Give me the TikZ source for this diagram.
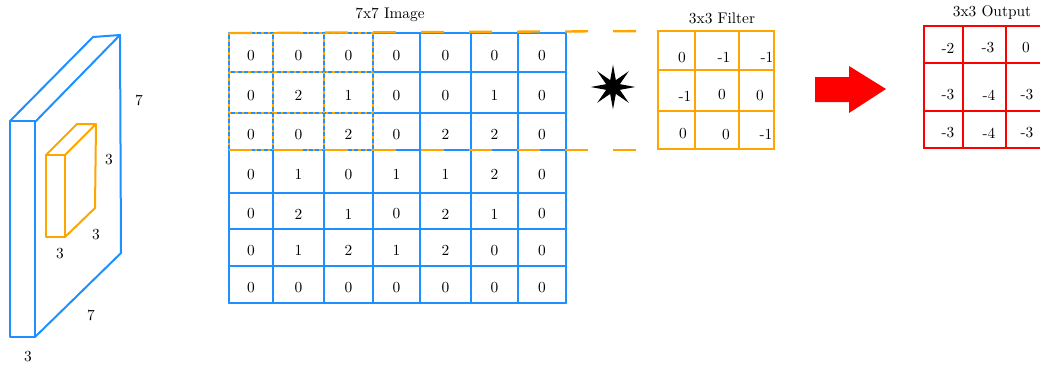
\documentclass[tikz,border=0pt]{standalone}
\usetikzlibrary{shapes.geometric}
\definecolor{gblue}{RGB}{30,144,255}
\definecolor{gorange}{RGB}{255,165,0}
\definecolor{gred}{RGB}{255,0,0}
\newcommand\mycolc[1]{\ifcase#1\or251\or298.5\or348.5\or396.5\or445.5\or494.5\or542\fi}
\begin{document}
\begin{tikzpicture}[x=0.65pt,y=-0.65pt,
  bl/.style={draw=gblue,line width=1.3pt,line join=round,line cap=round},
  orl/.style={draw=gorange,line width=1.3pt,line join=round},
  filt/.style={draw=gorange,line width=1.7pt},
  redl/.style={draw=gred,line width=1.5pt},
  dotl/.style={draw=gorange,line width=1.5pt,dash pattern=on 1.6pt off 2.6pt},
  dashl/.style={draw=gorange,line width=1.5pt,dash pattern=on 15pt off 16.2pt},
  lbl/.style={inner sep=0pt,font=\normalsize},
  val/.style={inner sep=0pt,font=\normalsize}]
\useasboundingbox (0,0) rectangle (1040,367);

% ---------- left 3D volume ----------
\draw[bl] (10,121) rectangle (35,337);
\draw[bl] (10,121) -- (93,37) -- (120,35) -- (35,122);
\draw[bl] (120,35) -- (121,253) -- (35,337);
\node[lbl] (v7a) at (139,100) {7};
\node[lbl] (v7b) at (91,315) {7};
\node[lbl] (v3a) at (28,357) {3};
% orange sub-volume
\draw[orl] (46,155) rectangle (65,237);
\draw[orl] (46,155) -- (77,124) -- (96,124) -- (65,155);
\draw[orl] (96,124) -- (95,208) -- (65,237);
\node[lbl] (s3a) at (109,160) {3};
\node[lbl] (s3b) at (96,235) {3};
\node[lbl] (s3c) at (60,254) {3};

% ---------- 7x7 image ----------
\node[lbl] (imgtitle) at (390,15) {7x7 Image};
\foreach \x in {229,273,324,373,420,471,518,566} \draw[bl] (\x,33) -- (\x,303);
\foreach \y in {33,72,113,150,193,229,266,303} \draw[bl] (229,\y) -- (566,\y);
\foreach \r/\cy/\row in {1/55.5/{0,0,0,0,0,0,0},2/95.5/{0,2,1,0,0,1,0},3/134.5/{0,0,2,0,2,2,0},4/174.5/{0,1,0,1,1,2,0},5/214/{0,2,1,0,2,1,0},6/250.5/{0,1,2,1,2,0,0},7/287.5/{0,0,0,0,0,0,0}}{
  \foreach \v [count=\c] in \row {
    \node[val] (g\r\c) at (\mycolc{\c},\cy) {\v};
  }
}
% receptive field overlay
\foreach \x in {229,273,324,373} \draw[dotl] (\x,33) -- (\x,150);
\foreach \y in {72,113} \draw[dotl] (229,\y) -- (373,\y);
\draw[dotl] (229,33) -- (373,33);
\draw[dotl] (229,150) -- (373,150);
\draw[dashl] (229,33) -- (658,31);
\draw[dashl] (229,150) -- (658,150);

% ---------- convolution star ----------
\node[star,star points=8,star point ratio=3,fill=black,draw=none,inner sep=0pt,minimum size=29pt] (conv) at (613,87) {};

% ---------- 3x3 filter ----------
\node[lbl] (filttitle) at (722,18) {3x3 Filter};
\draw[filt] (658,31) rectangle (774,149);
\draw[filt] (695,31) -- (695,149);
\draw[filt] (739,31) -- (739,149);
\draw[filt] (658,70) -- (774,70);
\draw[filt] (658,111) -- (774,111);
\node[val] (f11) at (682,58) {0};
\node[val] (f12) at (724,57) {-1};
\node[val] (f13) at (767,57) {-1};
\node[val] (f21) at (685,96) {-1};
\node[val] (f22) at (722,95) {0};
\node[val] (f23) at (760,96) {0};
\node[val] (f31) at (683,134) {0};
\node[val] (f32) at (726,135) {0};
\node[val] (f33) at (766,134) {-1};

% ---------- red arrow ----------
\fill[gred] (815,77) -- (849,77) -- (849,66) -- (886,89) -- (849,113) -- (849,102) -- (815,102) -- cycle;

% ---------- 3x3 output ----------
\node[lbl] (outtitle) at (992,13) {3x3 Output};
\draw[redl] (924,26) rectangle (1048,148);
\draw[redl] (963,26) -- (963,148);
\draw[redl] (1006,26) -- (1006,148);
\draw[redl] (924,63) -- (1048,63);
\draw[redl] (924,111) -- (1048,111);
\node[val] (o11) at (948,48) {-2};
\node[val] (o12) at (988,48) {-3};
\node[val] (o13) at (1026,48) {0};
\node[val] (o21) at (948,95) {-3};
\node[val] (o22) at (989,95) {-4};
\node[val] (o23) at (1027,95) {-3};
\node[val] (o31) at (948,133) {-3};
\node[val] (o32) at (989,133) {-4};
\node[val] (o33) at (1027,133) {-3};
\end{tikzpicture}
\end{document}
